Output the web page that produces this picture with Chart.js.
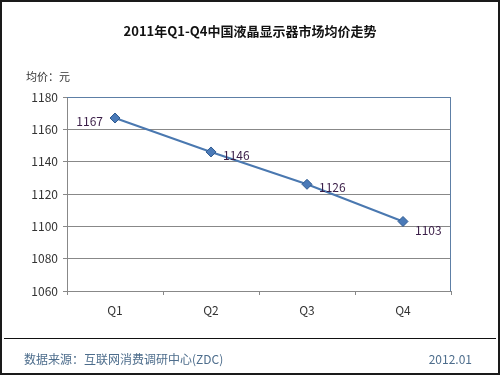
<!DOCTYPE html>
<html>
<head>
<meta charset="utf-8">
<script src="https://cdn.jsdelivr.net/npm/chart.js@4/dist/chart.umd.min.js"></script>
<style>
  html, body { margin: 0; padding: 0; background: #fff; }
  #wrap { width: 500px; height: 375px; }
</style>
</head>
<body>
<div id="wrap"><canvas id="c" width="500" height="375"></canvas></div>
<script>
// 数据
const quarters = ["Q1", "Q2", "Q3", "Q4"];
const avgPrice = [1167, 1146, 1126, 1103];
const yTicks = [1060, 1080, 1100, 1120, 1140, 1160, 1180];
// 数据标签的位置 (相对于点)
const labelSide = ["left", "right", "right", "below"];

const FONT = "'Noto Sans CJK SC', 'DejaVu Sans', sans-serif";

// 标题・脚注・边框等
const decoPlugin = {
  id: "deco",
  afterDraw(chart) {
    const ctx = chart.ctx;
    const area = chart.chartArea;
    ctx.save();

    // 外框
    ctx.strokeStyle = "#1a1a1a";
    ctx.lineWidth = 2;
    ctx.strokeRect(1, 1, 498, 373);

    // 标题
    ctx.fillStyle = "#111";
    ctx.font = "bold 13px " + FONT;
    ctx.textAlign = "center";
    ctx.textBaseline = "middle";
    ctx.fillText("2011年Q1-Q4中国液晶显示器市场均价走势", 250, 31);

    // 单位
    ctx.font = "11px " + FONT;
    ctx.fillStyle = "#333";
    ctx.textAlign = "left";
    ctx.fillText("均价：元", 26, 77);

    // 绘图区上・右边框
    ctx.strokeStyle = "#5d7fa6";
    ctx.lineWidth = 1;
    ctx.beginPath();
    ctx.moveTo(area.left, area.top + 0.5);
    ctx.lineTo(area.right - 0.5, area.top + 0.5);
    ctx.lineTo(area.right - 0.5, area.bottom);
    ctx.stroke();

    // 分隔线
    ctx.strokeStyle = "#111";
    ctx.beginPath();
    ctx.moveTo(4, 338.5);
    ctx.lineTo(496, 338.5);
    ctx.stroke();

    // 脚注
    ctx.fillStyle = "#4d6d8c";
    ctx.font = "12px " + FONT;
    ctx.textAlign = "left";
    ctx.fillText("数据来源：互联网消费调研中心(ZDC)", 24, 359);
    ctx.textAlign = "right";
    ctx.fillText("2012.01", 472, 359);

    // 数据标签
    const meta = chart.getDatasetMeta(0);
    ctx.fillStyle = "#3a1d47";
    ctx.font = "12px " + FONT;
    meta.data.forEach((pt, i) => {
      const side = labelSide[i];
      let x = pt.x, y = pt.y;
      if (side === "left") { ctx.textAlign = "right"; x -= 12; y += 3; }
      else if (side === "right") { ctx.textAlign = "left"; x += 12; y += 3; }
      else { ctx.textAlign = "left"; x += 12; y += 9; }
      ctx.fillText(String(avgPrice[i]), x, y);
    });
    ctx.restore();
  }
};

new Chart(document.getElementById("c"), {
  type: "line",
  data: {
    labels: quarters,
    datasets: [{
      data: avgPrice,
      borderColor: "#4a78b0",
      borderWidth: 2,
      backgroundColor: "#4a7ab8",
      pointBackgroundColor: "#4a7ab8",
      pointBorderColor: "#2f5a90",
      pointBorderWidth: 1,
      pointStyle: "rectRot",
      pointRadius: 5,
      tension: 0
    }]
  },
  options: {
    responsive: false,
    animation: false,
    events: [],
    layout: { padding: { top: 97, right: 49, bottom: 0, left: 0 } },
    plugins: { legend: { display: false }, tooltip: { enabled: false } },
    scales: {
      x: {
        offset: true,
        grid: { offset: true, drawOnChartArea: false, drawTicks: true, tickLength: 4, color: "#888" },
        border: { color: "#888" },
        ticks: { color: "#333", font: { family: FONT, size: 12 }, padding: 8 },
        afterFit(scale) { scale.height = 84; }
      },
      y: {
        min: 1060,
        max: 1180,
        afterBuildTicks(scale) { scale.ticks = yTicks.map(v => ({ value: v })); },
        grid: { color: "#888", tickLength: 4 },
        border: { color: "#888" },
        ticks: {
          color: "#333",
          font: { family: FONT, size: 12 },
          padding: 5,
          callback: (v) => String(v)
        },
        afterFit(scale) { scale.width = 67; }
      }
    }
  },
  plugins: [decoPlugin]
});
</script>
</body>
</html>
